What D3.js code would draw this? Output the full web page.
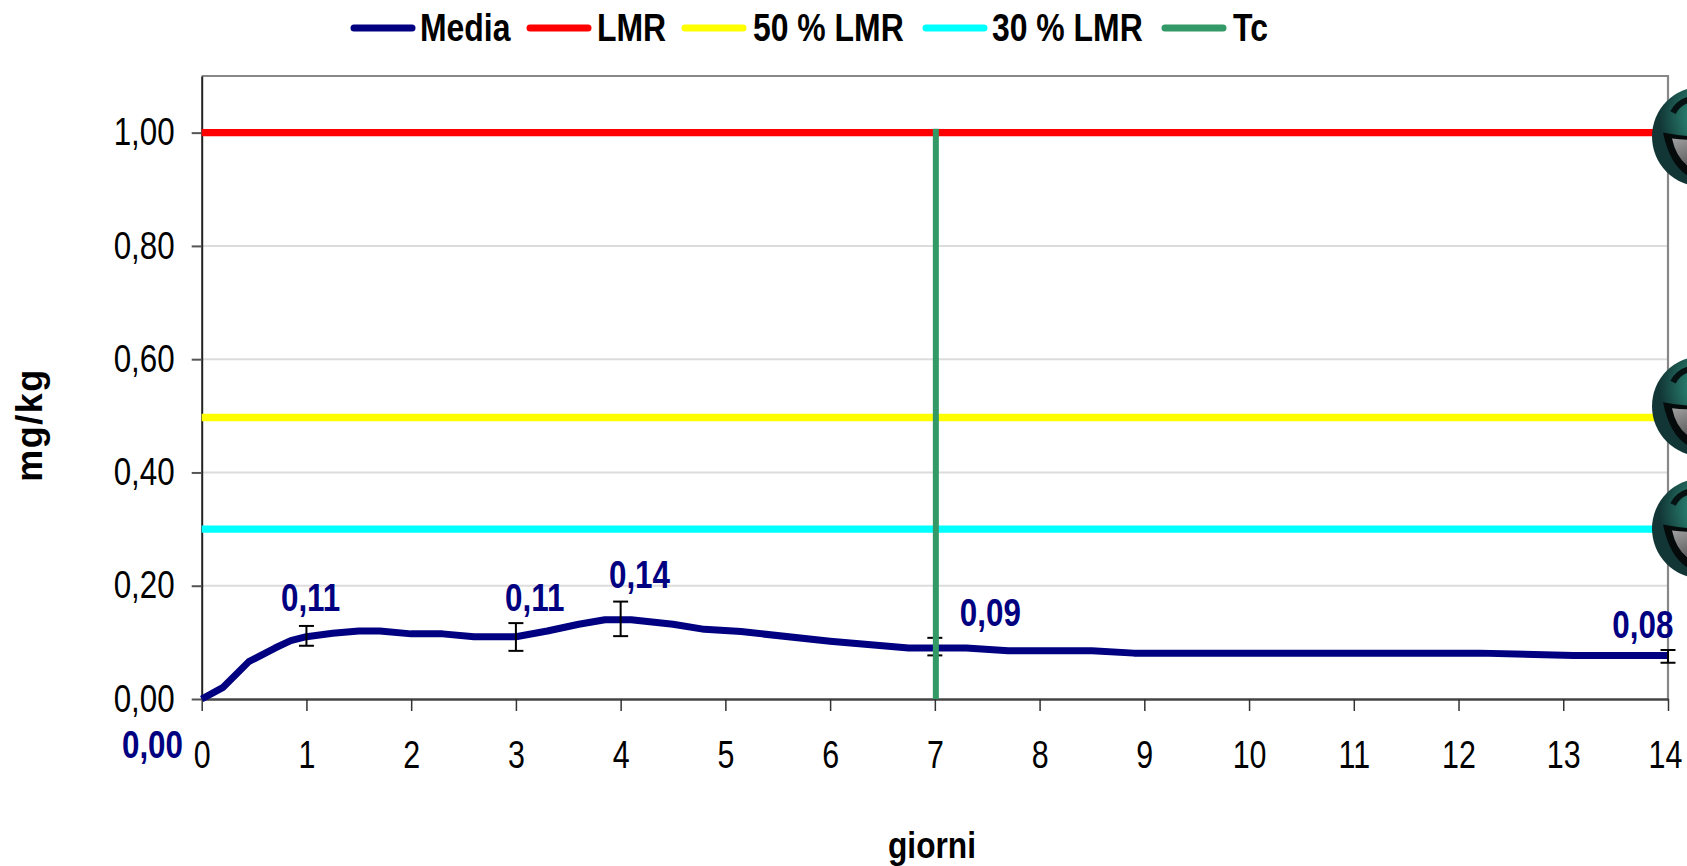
<!DOCTYPE html>
<html><head><meta charset="utf-8">
<style>html,body{margin:0;padding:0;background:#fff;overflow:hidden}svg{display:block}
text{font-family:"Liberation Sans",Arial,sans-serif}</style>
<script src="https://cdn.jsdelivr.net/npm/d3@7"></script></head><body>
<svg id="c" width="1687" height="866"></svg>
<script>
const days=[0,0.2,0.45,0.7,0.85,1,1.25,1.5,1.7,2,2.3,2.6,3,3.3,3.6,3.85,4.1,4.5,4.8,5.15,6,6.75,7.3,7.7,8.5,8.9,12.2,13.1,14];
const media=[0,0.02,0.066,0.09,0.103,0.11,0.116,0.12,0.12,0.115,0.115,0.11,0.11,0.12,0.132,0.14,0.14,0.132,0.123,0.119,0.102,0.09,0.09,0.085,0.085,0.081,0.081,0.077,0.077];
const errDays=[1,3,4,7,14];
const errLow=[0.094,0.085,0.111,0.077,0.064];
const errHigh=[0.129,0.134,0.172,0.108,0.0865];
const limits=[1,0.497,0.3];
const limitColors=["#ff0000","#ffff00","#00ffff"];
const faceValues=[0.993,0.517,0.301];
const tcDay=7;
const xTicks=d3.range(0,15);
const yTicks=[0,0.2,0.4,0.6,0.8,1];
const labelText=["0,00","0,11","0,11","0,14","0,09","0,08"];
const labelDays=[-0.47,1.04,3.18,4.18,7.53,13.76];
const labelVals=[-0.104,0.155,0.155,0.196,0.129,0.107];
const legendNames=["Media","LMR","50 % LMR","30 % LMR","Tc"];
const legendColors=["#000080","#ff0000","#ffff00","#00ffff","#339966"];
const legendLine=[351,527,682,923,1162];
const legendText=[420,597,753,992,1233];

const svg=d3.select("#c");
const x=d3.scaleLinear().domain([0,14]).range([201.7,1668]);
const y=d3.scaleLinear().domain([0,1.1]).range([699,76]);
const fmt=v=>v.toFixed(2).replace(".",",");
const FS=38;
function squeeze(sel,k){sel.each(function(){const n=this.getComputedTextLength();
  this.setAttribute("textLength",n*k);this.setAttribute("lengthAdjust","spacingAndGlyphs");});}

svg.append("g").selectAll("line").data(yTicks.slice(1)).join("line")
 .attr("x1",x(0)).attr("x2",x(14)).attr("y1",d=>y(d)).attr("y2",d=>y(d))
 .attr("stroke","#dcdcdc").attr("stroke-width",2);
svg.append("path").attr("d",`M${x(0)},${y(1.1)}H${x(14)}V${y(0)}`).attr("fill","none").attr("stroke","#888").attr("stroke-width",2.2);

const gy=svg.append("g").attr("transform",`translate(${x(0)},0)`)
 .call(d3.axisLeft(y).tickValues(yTicks).tickFormat(fmt).tickSizeInner(10).tickSizeOuter(0).tickPadding(17));
gy.select(".domain").attr("stroke","#222").attr("stroke-width",2);
gy.selectAll("line").attr("stroke","#555").attr("stroke-width",2);
gy.selectAll("text").attr("font-size",FS).attr("fill","#000").style("font-family",'"Liberation Sans"').call(squeeze,0.825);
const gx=svg.append("g").attr("transform",`translate(0,${y(0)})`)
 .call(d3.axisBottom(x).tickValues(xTicks).tickFormat(d=>d).tickSizeInner(12).tickSizeOuter(0).tickPadding(0));
gx.select(".domain").attr("stroke","#444").attr("stroke-width",2.4);
gx.selectAll("line").attr("stroke","#333").attr("stroke-width",1.5);
gx.selectAll("text").attr("font-size",FS).attr("fill","#000").attr("dy",0).attr("y",69)
 .attr("x",d=>d===14?-3:0).style("font-family",'"Liberation Sans"').call(squeeze,0.8);

svg.append("g").selectAll("line").data(limits).join("line")
 .attr("x1",x(0)).attr("x2",x(14)).attr("y1",d=>y(d)).attr("y2",d=>y(d))
 .attr("stroke",(d,i)=>limitColors[i]).attr("stroke-width",7.4);

svg.append("path").datum(days.map((d,i)=>[d,media[i]]))
 .attr("d",d3.line().x(d=>x(d[0])).y(d=>y(d[1])))
 .attr("fill","none").attr("stroke","#000080").attr("stroke-width",7).attr("stroke-linejoin","round");

const eb=svg.append("g").attr("stroke","#000").attr("stroke-width",2).selectAll("g").data(errDays).join("g");
eb.append("line").attr("x1",d=>x(d)).attr("x2",d=>x(d)).attr("y1",(d,i)=>y(errLow[i])).attr("y2",(d,i)=>y(errHigh[i]));
eb.append("line").attr("x1",d=>x(d)-7.5).attr("x2",d=>x(d)+7.5).attr("y1",(d,i)=>y(errLow[i])).attr("y2",(d,i)=>y(errLow[i]));
eb.append("line").attr("x1",d=>x(d)-7.5).attr("x2",d=>x(d)+7.5).attr("y1",(d,i)=>y(errHigh[i])).attr("y2",(d,i)=>y(errHigh[i]));

svg.append("line").attr("x1",x(tcDay)+1).attr("x2",x(tcDay)+1).attr("y1",y(1)-4).attr("y2",y(0))
 .attr("stroke","#339966").attr("stroke-width",6);

const defs=svg.append("defs");
const g1=defs.append("radialGradient").attr("id","fg").attr("cx","0.62").attr("cy","0.3").attr("r","0.55");
g1.append("stop").attr("offset","0").attr("stop-color","#35a288");
g1.append("stop").attr("offset","0.5").attr("stop-color","#26786a");
g1.append("stop").attr("offset","1").attr("stop-color","#123635");
const g2=defs.append("linearGradient").attr("id","tg").attr("x1","0").attr("y1","0").attr("x2","0.7").attr("y2","1");
g2.append("stop").attr("offset","0").attr("stop-color","#a0a0a0");
g2.append("stop").attr("offset","1").attr("stop-color","#3a3a3a");
const fc=svg.append("g").selectAll("g").data(faceValues).join("g")
 .attr("transform",d=>`translate(${x(14)+34},${y(d)})`);
fc.append("circle").attr("r",50).attr("fill","url(#fg)");
fc.append("path").attr("d","M-39,-4 Q0,4 39,-4 Q35,40 0,44 Q-30,40 -39,-4Z").attr("fill","#050a0a");
fc.append("path").attr("d","M-30,2 Q0,5 30,2 Q26,34 0,36 Q-24,30 -30,2Z").attr("fill","url(#tg)");
fc.append("path").attr("d","M-29,-24 Q-24,-34 -13,-37").attr("fill","none").attr("stroke","#061212").attr("stroke-width",6);

svg.append("g").selectAll("text").data(labelText).join("text")
 .attr("x",(d,i)=>x(labelDays[i])).attr("y",(d,i)=>y(labelVals[i]))
 .attr("text-anchor","middle").attr("font-size",FS).attr("font-weight","bold").attr("fill","#000080").text(d=>d).call(squeeze,0.825);

svg.append("text").attr("x",932).attr("y",858).attr("text-anchor","middle").attr("font-size",36).attr("font-weight","bold").text("giorni").call(squeeze,0.88);
svg.append("text").attr("transform","translate(42,425) rotate(-90)").attr("text-anchor","middle").attr("font-size",36).attr("font-weight","bold").attr("letter-spacing",1.5).text("mg/kg").call(squeeze,1.0);

const lg=svg.append("g").selectAll("g").data(legendNames).join("g");
lg.append("line").attr("x1",(d,i)=>legendLine[i]+3).attr("x2",(d,i)=>legendLine[i]+61).attr("y1",28).attr("y2",28)
 .attr("stroke",(d,i)=>legendColors[i]).attr("stroke-width",7).attr("stroke-linecap","round");
lg.append("text").attr("x",(d,i)=>legendText[i]).attr("y",41).attr("font-size",FS).attr("font-weight","bold").text(d=>d).call(squeeze,0.84);
</script></body></html>
